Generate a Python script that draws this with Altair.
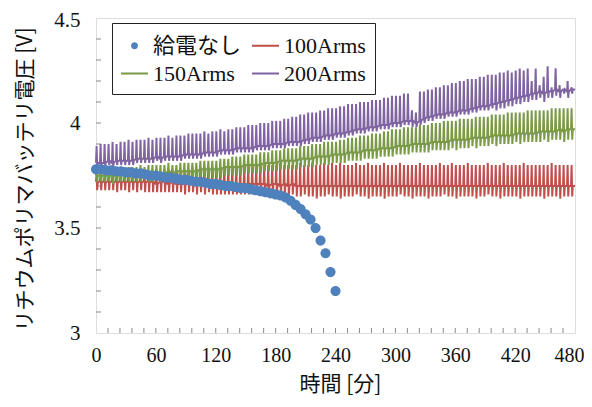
import altair as alt
import pandas as pd

SERIES = ["給電なし", "100Arms", "150Arms", "200Arms"]
COLORS = ["#4F81BD", "#C0504D", "#7A9A48", "#8064A2"]

# 給電なし : dots every 5 minutes
T_DOTS = list(range(0, 241, 5))
V_DOTS = [3.78, 3.78, 3.775, 3.775, 3.77, 3.77, 3.765, 3.765, 3.76, 3.76,
          3.755, 3.75, 3.75, 3.745, 3.74, 3.74, 3.735, 3.73, 3.73, 3.725,
          3.72, 3.72, 3.715, 3.71, 3.71, 3.705, 3.70, 3.70, 3.695, 3.69,
          3.69, 3.685, 3.68, 3.675, 3.67, 3.665, 3.66, 3.655, 3.645, 3.63,
          3.61, 3.59, 3.565, 3.54, 3.50, 3.44, 3.38, 3.29, 3.20]

# charging cycles: one cycle every 4 minutes
T_CYCLE = list(range(0, 480, 4))
T_END = 480

P100_PEAK = [3.76, 3.76, 3.76, 3.76, 3.77, 3.76, 3.77, 3.76, 3.77, 3.77,
             3.77, 3.77, 3.77, 3.77, 3.77, 3.78, 3.77, 3.78, 3.78, 3.78,
             3.78, 3.78, 3.78, 3.78, 3.79, 3.78, 3.79, 3.79, 3.79, 3.79,
             3.79, 3.79, 3.79, 3.79, 3.79, 3.80, 3.79, 3.80, 3.80, 3.80,
             3.80, 3.80, 3.80, 3.80, 3.80, 3.80, 3.81, 3.80, 3.80, 3.80,
             3.80, 3.81, 3.80, 3.80, 3.81, 3.80, 3.80, 3.81, 3.80, 3.81,
             3.80, 3.81, 3.80, 3.80, 3.80, 3.81, 3.80, 3.80, 3.81, 3.80,
             3.80, 3.80, 3.81, 3.80, 3.80, 3.80, 3.81, 3.80, 3.80, 3.80,
             3.80, 3.81, 3.80, 3.80, 3.80, 3.80, 3.81, 3.80, 3.80, 3.81,
             3.80, 3.80, 3.80, 3.81, 3.80, 3.80, 3.80, 3.80, 3.81, 3.80,
             3.80, 3.80, 3.81, 3.80, 3.80, 3.80, 3.80, 3.81, 3.80, 3.80,
             3.80, 3.80, 3.80, 3.80, 3.81, 3.80, 3.80, 3.80, 3.80, 3.80]
P100_BASE = [3.72, 3.72, 3.72, 3.72, 3.72, 3.72, 3.72, 3.72, 3.72, 3.72,
             3.72, 3.72, 3.72, 3.72, 3.72, 3.71, 3.72, 3.72, 3.71, 3.72,
             3.71, 3.71, 3.71, 3.71, 3.71, 3.71, 3.71, 3.71, 3.71, 3.71,
             3.71, 3.71, 3.71, 3.71, 3.71, 3.71, 3.71, 3.71, 3.71, 3.71,
             3.71, 3.71, 3.71, 3.70, 3.71, 3.71, 3.70, 3.71, 3.70, 3.71,
             3.70, 3.70, 3.70, 3.70, 3.70, 3.70, 3.70, 3.70, 3.70, 3.70,
             3.70, 3.70, 3.70, 3.70, 3.70, 3.70, 3.70, 3.70, 3.70, 3.70,
             3.70, 3.70, 3.70, 3.70, 3.70, 3.70, 3.70, 3.70, 3.70, 3.70,
             3.70, 3.70, 3.70, 3.70, 3.70, 3.70, 3.70, 3.70, 3.70, 3.70,
             3.70, 3.70, 3.70, 3.70, 3.70, 3.70, 3.70, 3.70, 3.70, 3.70,
             3.70, 3.70, 3.70, 3.70, 3.70, 3.70, 3.70, 3.70, 3.70, 3.70,
             3.70, 3.70, 3.70, 3.70, 3.70, 3.70, 3.70, 3.70, 3.70, 3.70]
P100_DIP = [3.68, 3.68, 3.68, 3.68, 3.68, 3.67, 3.68, 3.68, 3.67, 3.68,
            3.67, 3.68, 3.67, 3.67, 3.67, 3.67, 3.67, 3.67, 3.67, 3.67,
            3.67, 3.67, 3.66, 3.67, 3.67, 3.66, 3.67, 3.66, 3.67, 3.66,
            3.66, 3.66, 3.66, 3.66, 3.66, 3.66, 3.66, 3.66, 3.66, 3.66,
            3.66, 3.66, 3.65, 3.66, 3.66, 3.65, 3.66, 3.66, 3.65, 3.66,
            3.65, 3.65, 3.66, 3.65, 3.65, 3.64, 3.65, 3.65, 3.66, 3.65,
            3.65, 3.64, 3.65, 3.65, 3.65, 3.66, 3.65, 3.65, 3.64, 3.65,
            3.65, 3.65, 3.64, 3.65, 3.65, 3.65, 3.66, 3.65, 3.65, 3.64,
            3.65, 3.65, 3.65, 3.64, 3.65, 3.65, 3.65, 3.66, 3.65, 3.65,
            3.64, 3.65, 3.65, 3.65, 3.65, 3.64, 3.65, 3.65, 3.66, 3.65,
            3.65, 3.64, 3.65, 3.65, 3.65, 3.65, 3.64, 3.65, 3.65, 3.65,
            3.65, 3.65, 3.64, 3.65, 3.65, 3.65, 3.64, 3.65, 3.65, 3.65]

P150_PEAK = [3.78, 3.78, 3.78, 3.79, 3.78, 3.79, 3.79, 3.79, 3.79, 3.79,
             3.79, 3.80, 3.79, 3.80, 3.80, 3.80, 3.80, 3.80, 3.81, 3.80,
             3.80, 3.81, 3.81, 3.81, 3.81, 3.81, 3.82, 3.82, 3.82, 3.82,
             3.82, 3.83, 3.83, 3.83, 3.84, 3.84, 3.84, 3.85, 3.85, 3.85,
             3.85, 3.86, 3.86, 3.86, 3.87, 3.87, 3.87, 3.88, 3.88, 3.88,
             3.88, 3.89, 3.89, 3.89, 3.90, 3.90, 3.90, 3.91, 3.91, 3.91,
             3.91, 3.92, 3.92, 3.93, 3.93, 3.93, 3.94, 3.94, 3.94, 3.95,
             3.95, 3.95, 3.96, 3.96, 3.97, 3.97, 3.97, 3.98, 3.98, 3.98,
             3.98, 3.99, 3.99, 3.99, 4.00, 4.00, 4.00, 4.01, 4.01, 4.01,
             4.01, 4.02, 4.02, 4.02, 4.02, 4.03, 4.03, 4.03, 4.03, 4.04,
             4.04, 4.04, 4.04, 4.05, 4.05, 4.05, 4.05, 4.05, 4.06, 4.06,
             4.06, 4.06, 4.06, 4.06, 4.07, 4.07, 4.07, 4.07, 4.07, 4.07]
P150_BASE = [3.75, 3.75, 3.75, 3.75, 3.75, 3.75, 3.75, 3.76, 3.75, 3.76,
             3.76, 3.76, 3.76, 3.76, 3.76, 3.76, 3.76, 3.76, 3.77, 3.76,
             3.77, 3.77, 3.77, 3.77, 3.77, 3.77, 3.78, 3.78, 3.78, 3.78,
             3.78, 3.78, 3.79, 3.79, 3.79, 3.79, 3.79, 3.80, 3.80, 3.80,
             3.80, 3.80, 3.81, 3.81, 3.81, 3.81, 3.82, 3.82, 3.82, 3.82,
             3.82, 3.83, 3.83, 3.83, 3.83, 3.84, 3.84, 3.84, 3.84, 3.85,
             3.85, 3.85, 3.85, 3.86, 3.86, 3.86, 3.86, 3.87, 3.87, 3.87,
             3.87, 3.88, 3.88, 3.88, 3.88, 3.89, 3.89, 3.89, 3.89, 3.90,
             3.90, 3.90, 3.90, 3.90, 3.91, 3.91, 3.91, 3.91, 3.91, 3.92,
             3.92, 3.92, 3.92, 3.92, 3.93, 3.93, 3.93, 3.93, 3.93, 3.94,
             3.94, 3.94, 3.94, 3.94, 3.94, 3.95, 3.95, 3.95, 3.95, 3.95,
             3.95, 3.96, 3.96, 3.96, 3.96, 3.96, 3.97, 3.96, 3.97, 3.97]
P150_DIP = [3.72, 3.72, 3.72, 3.72, 3.71, 3.72, 3.72, 3.72, 3.72, 3.72,
            3.72, 3.72, 3.73, 3.72, 3.72, 3.73, 3.72, 3.73, 3.73, 3.72,
            3.73, 3.73, 3.73, 3.73, 3.74, 3.73, 3.74, 3.74, 3.74, 3.74,
            3.74, 3.74, 3.75, 3.75, 3.75, 3.75, 3.75, 3.76, 3.76, 3.76,
            3.76, 3.76, 3.77, 3.77, 3.77, 3.77, 3.78, 3.78, 3.78, 3.78,
            3.78, 3.79, 3.79, 3.79, 3.79, 3.80, 3.80, 3.80, 3.80, 3.81,
            3.81, 3.81, 3.81, 3.82, 3.82, 3.82, 3.82, 3.83, 3.83, 3.83,
            3.83, 3.84, 3.84, 3.84, 3.84, 3.85, 3.85, 3.85, 3.85, 3.86,
            3.86, 3.86, 3.86, 3.86, 3.87, 3.87, 3.87, 3.87, 3.87, 3.88,
            3.87, 3.88, 3.88, 3.88, 3.89, 3.88, 3.89, 3.89, 3.89, 3.90,
            3.89, 3.90, 3.90, 3.90, 3.90, 3.91, 3.90, 3.91, 3.91, 3.91,
            3.91, 3.91, 3.92, 3.91, 3.92, 3.92, 3.92, 3.91, 3.92, 3.92]

P200_PEAK = [3.89, 3.90, 3.90, 3.90, 3.91, 3.90, 3.91, 3.91, 3.92, 3.91,
             3.92, 3.92, 3.92, 3.93, 3.92, 3.93, 3.93, 3.93, 3.94, 3.93,
             3.94, 3.94, 3.94, 3.95, 3.95, 3.95, 3.95, 3.96, 3.95, 3.96,
             3.96, 3.97, 3.96, 3.97, 3.97, 3.98, 3.98, 3.98, 3.99, 3.99,
             3.99, 4.00, 4.00, 4.00, 4.01, 4.01, 4.01, 4.02, 4.02, 4.03,
             4.03, 4.04, 4.04, 4.05, 4.05, 4.05, 4.06, 4.06, 4.07, 4.07,
             4.07, 4.08, 4.08, 4.09, 4.09, 4.09, 4.10, 4.10, 4.10, 4.11,
             4.11, 4.11, 4.12, 4.12, 4.13, 4.13, 4.13, 4.14, 4.14, 4.06,
             4.05, 4.15, 4.15, 4.16, 4.16, 4.17, 4.17, 4.18, 4.18, 4.19,
             4.19, 4.20, 4.20, 4.21, 4.21, 4.21, 4.22, 4.22, 4.23, 4.23,
             4.23, 4.24, 4.24, 4.25, 4.24, 4.25, 4.26, 4.25, 4.26, 4.20,
             4.26, 4.18, 4.22, 4.27, 4.17, 4.26, 4.18, 4.16, 4.20, 4.17]
P200_BASE = [3.81, 3.81, 3.81, 3.82, 3.81, 3.82, 3.82, 3.82, 3.82, 3.82,
             3.83, 3.83, 3.83, 3.83, 3.83, 3.84, 3.83, 3.84, 3.84, 3.84,
             3.84, 3.84, 3.85, 3.85, 3.85, 3.85, 3.85, 3.86, 3.86, 3.86,
             3.86, 3.87, 3.87, 3.87, 3.87, 3.88, 3.88, 3.88, 3.88, 3.88,
             3.89, 3.89, 3.89, 3.89, 3.90, 3.90, 3.90, 3.90, 3.91, 3.91,
             3.91, 3.91, 3.92, 3.92, 3.93, 3.93, 3.93, 3.94, 3.94, 3.94,
             3.95, 3.95, 3.95, 3.96, 3.96, 3.97, 3.97, 3.97, 3.98, 3.98,
             3.98, 3.99, 3.99, 3.99, 4.00, 4.00, 4.00, 4.01, 4.01, 4.01,
             4.00, 4.01, 4.02, 4.03, 4.03, 4.04, 4.04, 4.04, 4.05, 4.05,
             4.05, 4.06, 4.06, 4.06, 4.07, 4.07, 4.08, 4.08, 4.08, 4.09,
             4.09, 4.10, 4.10, 4.11, 4.11, 4.12, 4.12, 4.13, 4.13, 4.14,
             4.14, 4.15, 4.14, 4.15, 4.15, 4.16, 4.15, 4.16, 4.15, 4.16]
P200_DIP = [3.79, 3.79, 3.79, 3.80, 3.79, 3.80, 3.80, 3.80, 3.80, 3.80,
            3.81, 3.81, 3.81, 3.81, 3.81, 3.82, 3.81, 3.82, 3.82, 3.82,
            3.82, 3.82, 3.83, 3.83, 3.83, 3.83, 3.83, 3.84, 3.84, 3.84,
            3.84, 3.85, 3.85, 3.85, 3.85, 3.86, 3.86, 3.86, 3.86, 3.86,
            3.87, 3.87, 3.87, 3.87, 3.88, 3.88, 3.88, 3.88, 3.89, 3.89,
            3.89, 3.89, 3.90, 3.90, 3.91, 3.91, 3.91, 3.92, 3.92, 3.92,
            3.93, 3.93, 3.93, 3.94, 3.94, 3.95, 3.95, 3.95, 3.96, 3.96,
            3.96, 3.97, 3.97, 3.97, 3.98, 3.98, 3.98, 3.99, 3.99, 3.98,
            3.98, 3.99, 4.00, 4.01, 4.01, 4.02, 4.02, 4.02, 4.03, 4.03,
            4.03, 4.04, 4.04, 4.04, 4.05, 4.05, 4.06, 4.06, 4.06, 4.07,
            4.06, 4.07, 4.07, 4.08, 4.08, 4.09, 4.09, 4.10, 4.10, 4.11,
            4.11, 4.12, 4.10, 4.12, 4.12, 4.13, 4.12, 4.14, 4.12, 4.14]

# minor tick positions (every 0.1 V and every 12 min)
Y_TICKS = [3.1, 3.2, 3.3, 3.4, 3.5, 3.6, 3.7, 3.8, 3.9, 4.0, 4.1, 4.2, 4.3, 4.4]
X_TICKS = [12, 24, 36, 48, 60, 72, 84, 96, 108, 120, 132, 144, 156, 168, 180,
           192, 204, 216, 228, 240, 252, 264, 276, 288, 300, 312, 324, 336,
           348, 360, 372, 384, 396, 408, 420, 432, 444, 456, 468]
X_LABELS = [0, 60, 120, 180, 240, 300, 360, 420, 480]
Y_LABELS = [3, 3.5, 4, 4.5]

# position of peak / dip / return inside one cycle (minutes after cycle start)
STEP = [0.0, 0.6, 1.2, 1.8]

W, H = 479, 315
SERIF = "Liberation Serif, DejaVu Serif, Noto Sans CJK JP, serif"
CJK = "Noto Sans CJK JP, sans-serif"

rows = []
for name, peak, base, dip in [
    ("100Arms", P100_PEAK, P100_BASE, P100_DIP),
    ("150Arms", P150_PEAK, P150_BASE, P150_DIP),
    ("200Arms", P200_PEAK, P200_BASE, P200_DIP),
]:
    for i, t in enumerate(T_CYCLE):
        for s, v in zip(STEP, [base[i], peak[i], dip[i], base[i]]):
            rows.append({"series": name, "t": t + s, "v": v})
    rows.append({"series": name, "t": T_END, "v": base[-1]})
lines_df = pd.DataFrame(rows)
dots_df = pd.DataFrame({"series": "給電なし", "t": T_DOTS, "v": V_DOTS})

xscale = alt.Scale(domain=[0, 480], nice=False, zero=False)
yscale = alt.Scale(domain=[3, 4.5], nice=False, zero=False)
cscale = alt.Scale(domain=SERIES, range=COLORS)
CIRCLE = "M0.26,0A0.26,0.26,0,1,1,-0.26,0A0.26,0.26,0,1,1,0.26,0Z"
BAR = "M-1,-0.075H1V0.075H-1Z"
sscale = alt.Scale(domain=SERIES, range=[CIRCLE, BAR, BAR, BAR])

LAST_X = "datum.value == 480"
TOP_Y = "datum.value == 4.5"
xaxis = alt.Axis(values=X_LABELS, ticks=False, tickSize=0, domain=False, grid=False,
                 labelFlush=False, labelOverlap=False,
                 labelAlign={"condition": {"test": LAST_X, "value": "right"}, "value": "center"},
                 labelOffset={"condition": {"test": LAST_X, "value": 9}, "value": 0},
                 labelFont=SERIF, labelFontSize=20, labelColor="#111", labelPadding=12,
                 title="時間 [分]", titleFont=CJK, titleFontSize=21, titleFontWeight="normal",
                 titleColor="#111", titleX=244, titleY=51, titleBaseline="middle")
yaxis = alt.Axis(values=Y_LABELS, format="~g", ticks=False, tickSize=0, domain=False, grid=False,
                 labelFlush=False, labelOverlap=False,
                 labelOffset={"condition": {"test": TOP_Y, "value": 2}, "value": 0},
                 labelFont=SERIF, labelFontSize=21, labelColor="#111", labelPadding=16,
                 title="リチウムポリマバッテリ電圧 [V]", titleFont=CJK, titleFontSize=21,
                 titleFontWeight="normal", titleColor="#111", titleX=-71, titleY=161,
                 titleBaseline="middle", titleAlign="center", titleAngle=-90)

lines = alt.Chart(lines_df).mark_line(strokeWidth=2, strokeJoin="miter").encode(
    x=alt.X("t:Q", scale=xscale, axis=xaxis),
    y=alt.Y("v:Q", scale=yscale, axis=yaxis),
    color=alt.Color("series:N", scale=cscale, legend=None),
    detail="series:N",
)

legend = alt.Legend(title=None, orient="none", legendX=16, legendY=5, columns=2,
                    direction="horizontal",
                    symbolSize=729, symbolStrokeWidth=0, symbolOffset=0,
                    labelFont=SERIF, labelFontSize=22, labelColor="#111", labelOffset=5,
                    strokeColor="#222", fillColor="white", padding=9,
                    columnPadding=10, rowPadding=3, labelLimit=200)

dots = alt.Chart(dots_df).mark_point(filled=True, opacity=1, size=1500, strokeWidth=0).encode(
    x=alt.X("t:Q", scale=xscale),
    y=alt.Y("v:Q", scale=yscale),
    color=alt.Color("series:N", scale=cscale, legend=legend),
    shape=alt.Shape("series:N", scale=sscale, legend=legend),
)

yticks = alt.Chart(pd.DataFrame({"v": Y_TICKS})).mark_rule(color="#8a8a8a", strokeWidth=1).encode(
    y=alt.Y("v:Q", scale=yscale), x=alt.value(0), x2=alt.value(5))
xticks = alt.Chart(pd.DataFrame({"t": X_TICKS})).mark_rule(color="#8a8a8a", strokeWidth=1).encode(
    x=alt.X("t:Q", scale=xscale), y=alt.value(H), y2=alt.value(H - 5))

chart = alt.layer(yticks, xticks, lines, dots).resolve_legend(
    color="independent", shape="independent"
).properties(
    width=W, height=H,
    autosize=alt.AutoSizeParams(type="none"),
    padding={"left": 88, "top": 10, "right": 9, "bottom": 62},
).configure_view(stroke="#808080", strokeWidth=1.2).configure(background="white")

chart.save("out.html", embed_options={"renderer": "svg", "actions": False})
